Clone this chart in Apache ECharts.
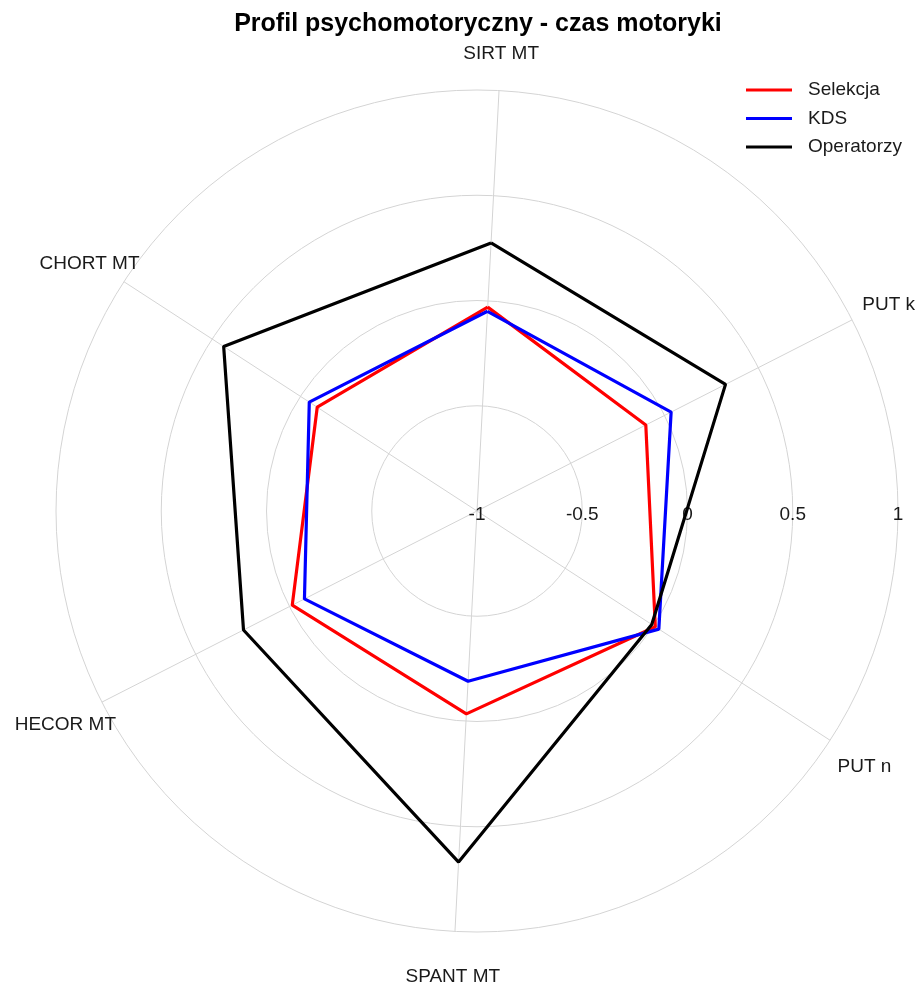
<!DOCTYPE html>
<html>
<head>
<meta charset="utf-8">
<title>Profil psychomotoryczny - czas motoryki</title>
<script src="https://cdn.jsdelivr.net/npm/echarts@6/dist/echarts.min.js"></script>
<style>
  html, body { margin: 0; padding: 0; background: #fff; }
  #main { width: 920px; height: 989px; }
</style>
</head>
<body>
<div id="main"></div>
<script>
// Axes listed clockwise, starting at the top
const categories = ["SIRT MT", "PUT k", "PUT n", "SPANT MT", "HECOR MT", "CHORT MT"];
const selekcja = [-0.03, -0.10, 0.01, -0.035, -0.015, -0.095];
const kds = [-0.05, 0.035, 0.03, -0.19, -0.08, -0.05];
const operatorzy = [0.275, 0.325, -0.01, 0.67, 0.245, 0.435];
const radialTicks = [-1, -0.5, 0, 0.5, 1];

const center = [477, 511];
const startAngle = 87;
const labelFont = "Arial, 'Liberation Sans', sans-serif";

// close the polygon by repeating the first value at angle 6
function toPolar(values) {
  const pts = values.map((v, i) => [v, i]);
  pts.push([values[0], values.length]);
  return pts;
}

function lineSeries(name, values, color) {
  return {
    name: name,
    type: "line",
    coordinateSystem: "polar",
    polarIndex: 0,
    data: toPolar(values),
    showSymbol: false,
    symbol: "none",
    lineStyle: { color: color, width: 3.2 },
    itemStyle: { color: color },
    z: 5,
  };
}

const chart = echarts.init(document.getElementById("main"));
chart.setOption({
  animation: false,
  title: {
    text: "Profil psychomotoryczny - czas motoryki",
    left: 473,
    textAlign: "center",
    top: 7,
    textStyle: { fontSize: 25, fontWeight: "bold", color: "#000", fontFamily: labelFont },
  },
  legend: {
    orient: "vertical",
    left: 741,
    top: 75,
    icon: "rect",
    itemWidth: 46,
    itemHeight: 3,
    itemGap: 8.5,
    data: ["Selekcja", "KDS", "Operatorzy"],
    textStyle: {
      fontSize: 19,
      lineHeight: 20,
      color: "#1a1a1a",
      fontFamily: labelFont,
      padding: [0, 0, 0, 11],
    },
  },
  polar: [
    { center: center, radius: 421 },
    { center: center, radius: 462 },
    { center: center, radius: 421 },
  ],
  angleAxis: [
    {
      polarIndex: 0,
      type: "value",
      min: 0,
      max: 6,
      interval: 1,
      startAngle: startAngle,
      clockwise: true,
      axisLine: { show: false },
      axisTick: { show: false },
      axisLabel: { show: false },
      splitLine: { show: true, lineStyle: { color: "#d4d4d4", width: 1 } },
    },
    {
      polarIndex: 1,
      type: "value",
      min: 0,
      max: 6,
      startAngle: startAngle,
      clockwise: true,
      axisLine: { show: false },
      axisTick: { show: false },
      axisLabel: { show: false },
      splitLine: { show: false },
    },
    {
      polarIndex: 2,
      type: "value",
      min: 0,
      max: 360,
      startAngle: 0,
      axisLine: { show: false },
      axisTick: { show: false },
      axisLabel: { show: false },
      splitLine: { show: false },
    },
  ],
  radiusAxis: [
    {
      polarIndex: 0,
      type: "value",
      min: -1,
      max: 1,
      interval: 0.5,
      axisLine: { show: false },
      axisTick: { show: false },
      axisLabel: { show: false },
      splitLine: { show: true, lineStyle: { color: "#d4d4d4", width: 1 } },
    },
    {
      polarIndex: 1,
      type: "value",
      min: 0,
      max: 1,
      axisLine: { show: false },
      axisTick: { show: false },
      axisLabel: { show: false },
      splitLine: { show: false },
    },
    {
      polarIndex: 2,
      type: "value",
      min: radialTicks[0],
      max: radialTicks[radialTicks.length - 1],
      interval: 0.5,
      axisLine: { show: false },
      axisTick: { show: false },
      splitLine: { show: false },
      axisLabel: {
        show: true,
        margin: -13,
        fontSize: 19,
        color: "#1a1a1a",
        fontFamily: labelFont,
        formatter: (v) => String(v),
      },
    },
  ],
  series: [
    lineSeries("Selekcja", selekcja, "#ff0000"),
    lineSeries("KDS", kds, "#0000ff"),
    lineSeries("Operatorzy", operatorzy, "#000000"),
    {
      // axis names sit on an outer ring
      type: "scatter",
      coordinateSystem: "polar",
      polarIndex: 1,
      symbolSize: 0,
      silent: true,
      itemStyle: { opacity: 1 },
      data: categories.map((c, i) => [1, i]),
      label: {
        show: true,
        position: "inside",
        offset: [0, 4],
        fontSize: 19,
        color: "#1a1a1a",
        fontFamily: labelFont,
        formatter: (p) => categories[p.dataIndex],
      },
    },
  ],
});
</script>
</body>
</html>
